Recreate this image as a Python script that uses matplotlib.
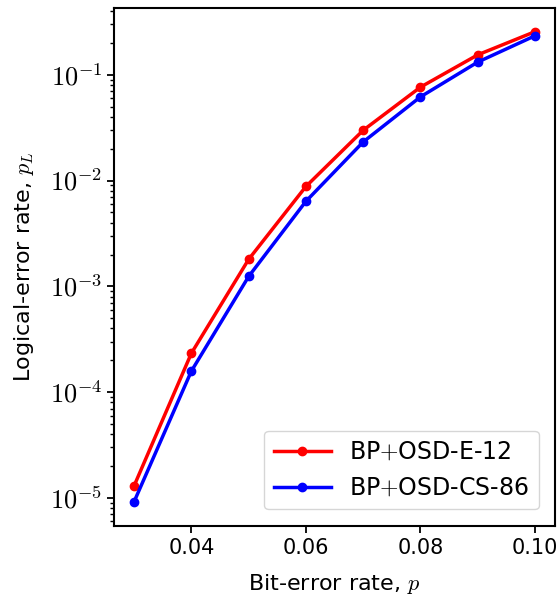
import matplotlib
matplotlib.use("Agg")
import matplotlib.pyplot as plt
from matplotlib.ticker import FuncFormatter, LogLocator
import numpy as np

# bit-error rates
p = [0.03, 0.04, 0.05, 0.06, 0.07, 0.08, 0.09, 0.10]

# logical-error rates
pl_e12 = [1.30e-5, 2.33e-4, 1.80e-3, 8.8e-3, 0.0299, 0.0765, 0.1545, 0.256]
pl_cs86 = [9.2e-6, 1.58e-4, 1.24e-3, 6.37e-3, 0.0232, 0.0619, 0.132, 0.234]

labels = [r"BP$+$OSD-E-12", r"BP$+$OSD-CS-86"]
xtick_labels = ["0.04", "0.06", "0.08", "0.10"]

plt.rcParams["mathtext.fontset"] = "cm"
plt.rcParams["font.family"] = ["DejaVu Sans"]
plt.rcParams["font.size"] = 14.5

fig = plt.figure(figsize=(5.59, 6.01), dpi=100)
ax = fig.add_axes([0.204, 0.125, 0.789, 0.862])

ax.plot(p, pl_e12, "-o", color="red", lw=2.5, ms=6, label=labels[0])
ax.plot(p, pl_cs86, "-o", color="blue", lw=2.5, ms=6, label=labels[1])

ax.set_yscale("log")
ax.set_ylim(5.44e-6, 0.43)
ax.set_xticks([float(s) for s in xtick_labels])
ax.set_xticklabels(xtick_labels, fontsize=15)
ax.yaxis.set_major_locator(LogLocator(base=10))
ax.yaxis.set_major_formatter(FuncFormatter(lambda v, pos: r"$10^{%d}$" % round(np.log10(v))))
ax.tick_params(axis="y", labelsize=19)

for s in ax.spines.values():
    s.set_linewidth(1.5)
ax.tick_params(which="major", width=1.3, length=5)
ax.tick_params(which="minor", width=1.0, length=3)

ax.set_xlabel(r"Bit-error rate, $p$", fontsize=16, labelpad=10)
ax.set_ylabel(r"Logical-error rate, $p_L$", fontsize=16, labelpad=10)

ax.legend(loc="lower right", fontsize=17, handlelength=2.4, labelspacing=0.5,
          borderaxespad=0.7)

fig.savefig("out.png", dpi=100)
